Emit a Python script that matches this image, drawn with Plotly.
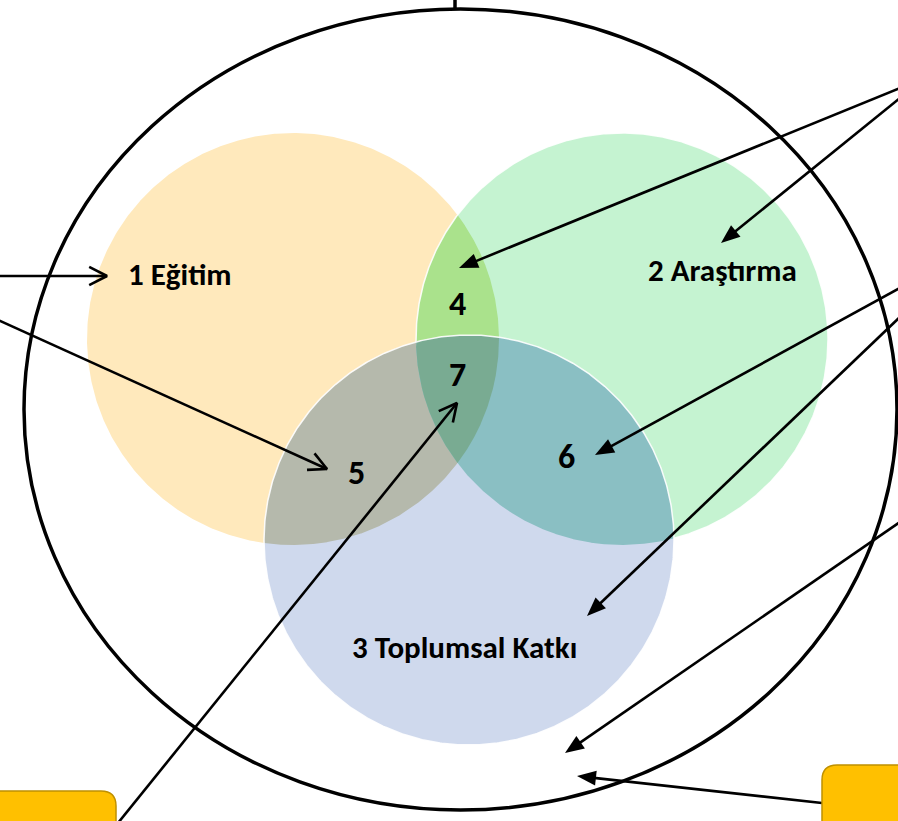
import numpy as np
import plotly.graph_objects as go

W, H = 898, 821

# --- Venn circles ---
circle_names = ["Eğitim", "Araştırma", "Toplumsal Katkı"]
circle_cx = [293, 622, 469]
circle_cy = [339, 339, 540]
circle_r = [206, 206, 205]
circle_colors = ["#FFE9BC", "#C5F3D1", "#CFD9ED"]

circle_labels = ["1 Eğitim", "2 Araştırma", "3 Toplumsal Katkı"]
circle_label_x = [180, 722, 464]
circle_label_y = [274, 270, 647]

# --- overlaps ---
overlap_sets = [(0, 1), (0, 2), (1, 2), (0, 1, 2)]
overlap_labels = ["4", "5", "6", "7"]
overlap_colors = ["#AAE28C", "#B5B9AC", "#8ABFC3", "#79AB92"]
overlap_label_x = [457, 356, 566, 457]
overlap_label_y = [303, 472, 456, 374]

# --- outer ellipse ---
outer_x = [24, 897]
outer_y = [9, 810]

# --- arrows (tail -> tip), head style ---
arrow_tail_x = [-2, -2, 118, 900, 900, 900, 900, 900, 822]
arrow_tail_y = [276, 320, 823, 88, 98, 288, 317, 522, 803]
arrow_tip_x = [107, 327, 457, 459, 721, 595, 587, 565, 577]
arrow_tip_y = [276, 469, 403, 268, 243, 455, 616, 753, 776]
arrow_heads = ["open", "open", "open", "filled", "filled", "filled", "filled", "filled", "filled"]


def circle_pts(i, n=720):
    t = np.linspace(0, 2 * np.pi, n)
    return circle_cx[i] + circle_r[i] * np.cos(t), circle_cy[i] + circle_r[i] * np.sin(t)


def intersection(idx):
    xs, ys = [], []
    for i in idx:
        x, y = circle_pts(i, 4000)
        mask = np.ones_like(x, dtype=bool)
        for j in idx:
            if j == i:
                continue
            mask &= (x - circle_cx[j]) ** 2 + (y - circle_cy[j]) ** 2 <= circle_r[j] ** 2 + 1e-6
        xs.append(x[mask])
        ys.append(y[mask])
    x = np.concatenate(xs)
    y = np.concatenate(ys)
    mx, my = x.mean(), y.mean()
    order = np.argsort(np.arctan2(y - my, x - mx))
    x, y = x[order], y[order]
    return np.append(x, x[0]), np.append(y, y[0])


fig = go.Figure()

def add_fill(x, y, color):
    fig.add_trace(go.Scatter(x=x, y=y, mode="lines", fill="toself", fillcolor=color,
                             line=dict(width=0, color=color), hoverinfo="skip", showlegend=False))

def add_line(x, y, color, width):
    fig.add_trace(go.Scatter(x=x, y=y, mode="lines", line=dict(width=width, color=color),
                             hoverinfo="skip", showlegend=False))

# yellow, green, lens 4, green outline
x, y = circle_pts(0); add_fill(x, y, circle_colors[0])
x, y = circle_pts(1); add_fill(x, y, circle_colors[1])
x, y = intersection(overlap_sets[0]); add_fill(x, y, overlap_colors[0])
x, y = circle_pts(1); add_line(x, y, "rgba(255,255,255,0.9)", 1.5)
# blue and its overlaps
x, y = circle_pts(2); add_fill(x, y, circle_colors[2])
for k in range(1, 4):
    x, y = intersection(overlap_sets[k]); add_fill(x, y, overlap_colors[k])
x, y = circle_pts(2); add_line(x, y, "rgba(255,255,255,0.9)", 1.5)

# arrows
LW = 2.6
for tx, ty, px, py, hs in zip(arrow_tail_x, arrow_tail_y, arrow_tip_x, arrow_tip_y, arrow_heads):
    d = np.array([px - tx, py - ty], dtype=float)
    d /= np.linalg.norm(d)
    n = np.array([-d[1], d[0]])
    tip = np.array([px, py], dtype=float)
    if hs == "open":
        add_line([tx, px], [ty, py], "black", LW)
        L, a = 20, np.deg2rad(27)
        r1 = tip - L * (np.cos(a) * d + np.sin(a) * n)
        r2 = tip - L * (np.cos(a) * d - np.sin(a) * n)
        add_line([r1[0], px, r2[0]], [r1[1], py, r2[1]], "black", LW)
    else:
        L, hw = 19, 7.5
        base = tip - L * d
        add_line([tx, base[0] + 2 * d[0]], [ty, base[1] + 2 * d[1]], "black", LW)
        p1 = base + hw * n
        p2 = base - hw * n
        add_fill([tip[0], p1[0], p2[0], tip[0]], [tip[1], p1[1], p2[1], tip[1]], "black")

shapes = [
    dict(type="circle", xref="x", yref="y", x0=outer_x[0], x1=outer_x[1], y0=outer_y[0], y1=outer_y[1],
         line=dict(color="black", width=3.5), layer="above"),
    dict(type="line", xref="x", yref="y", x0=455, x1=455, y0=-2, y1=outer_y[0],
         line=dict(color="black", width=3.5), layer="above"),
    dict(type="path", xref="x", yref="y",
         path="M 822,825 L 822,780 Q 822,765 837,765 L 902,765 L 902,825 Z",
         fillcolor="#FFC000", line=dict(color="#BF9000", width=1.5), layer="above"),
    dict(type="path", xref="x", yref="y",
         path="M -4,791 L 101,791 Q 116,791 116,806 L 116,825 L -4,825 Z",
         fillcolor="#FFC000", line=dict(color="#BF9000", width=1.5), layer="above"),
]

annotations = []
FONT = "Carlito, Lato, sans-serif"
for t, x, y in zip(circle_labels, circle_label_x, circle_label_y):
    annotations.append(dict(x=x, y=y, xref="x", yref="y", text=t, showarrow=False,
                            font=dict(family=FONT, size=31, color="black", weight=900)))
for t, x, y in zip(overlap_labels, overlap_label_x, overlap_label_y):
    annotations.append(dict(x=x, y=y, xref="x", yref="y", text=t, showarrow=False,
                            font=dict(family=FONT, size=34, color="black", weight=900)))

fig.update_layout(
    width=W, height=H, margin=dict(l=0, r=0, t=0, b=0),
    paper_bgcolor="white", plot_bgcolor="white",
    xaxis=dict(range=[0, W], visible=False, fixedrange=True),
    yaxis=dict(range=[H, 0], visible=False, fixedrange=True),
    shapes=shapes, annotations=annotations, showlegend=False,
)

fig.write_html("out.html", config={"displayModeBar": False},
               post_script="document.body.style.margin='0';document.body.style.overflow='hidden';")
